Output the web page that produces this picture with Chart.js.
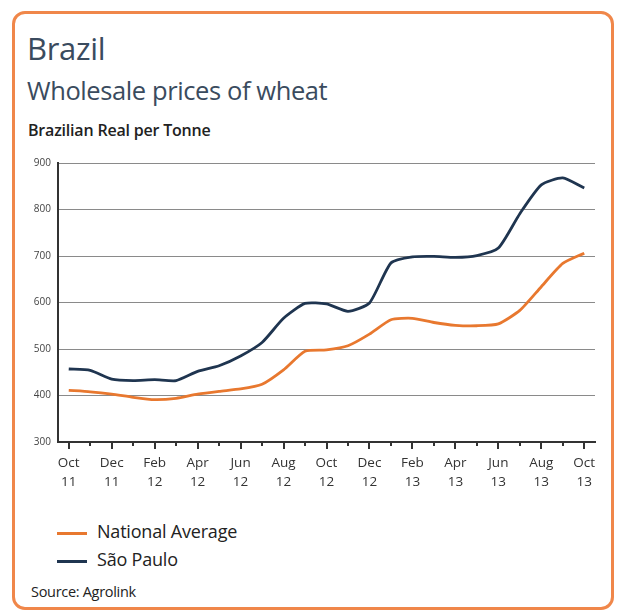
<!DOCTYPE html>
<html>
<head>
<meta charset="utf-8">
<script src="https://cdn.jsdelivr.net/npm/chart.js@4"></script>
<style>
  html, body { margin:0; padding:0; background:#fff; }
  body { width:619px; height:613px; position:relative; overflow:hidden; font-family:"Open Sans", sans-serif; }
  #frame { position:absolute; left:12px; top:11px; width:596px; height:593px; border:3px solid #f0874a; border-radius:13px; box-sizing:content-box; }
  .t { position:absolute; white-space:nowrap; color:#3a4b5e; }
  #title { left:27px; top:27px; font-size:31px; letter-spacing:-0.3px; }
  #subtitle { left:27px; top:73px; font-size:25.5px; letter-spacing:-0.4px; }
  #unit { left:28px; top:119px; font-size:16px; font-weight:600; color:#222; letter-spacing:-0.2px; }
  #chartwrap { position:absolute; left:0; top:150px; width:619px; height:360px; }
  .leg { position:absolute; left:57px; width:30px; height:3px; }
  .legt { position:absolute; left:97px; font-size:18px; color:#222; letter-spacing:-0.2px; }
  #source { left:31px; top:582px; font-size:14.5px; color:#222; letter-spacing:-0.3px; }
</style>
</head>
<body>
<div id="frame"></div>
<div class="t" id="title">Brazil</div>
<div class="t" id="subtitle">Wholesale prices of wheat</div>
<div class="t" id="unit">Brazilian Real per Tonne</div>
<div id="chartwrap"><canvas id="c" width="619" height="360"></canvas></div>
<div class="leg" style="top:532px;background:#e8782f"></div>
<div class="t legt" style="top:519px">National Average</div>
<div class="leg" style="top:560px;background:#1f3550"></div>
<div class="t legt" style="top:547px">São Paulo</div>
<div class="t" id="source">Source: Agrolink</div>
<script>
const months = ['Oct 11','Nov 11','Dec 11','Jan 12','Feb 12','Mar 12','Apr 12','May 12','Jun 12','Jul 12','Aug 12','Sep 12',
  'Oct 12','Nov 12','Dec 12','Jan 13','Feb 13','Mar 13','Apr 13','May 13','Jun 13','Jul 13','Aug 13','Sep 13','Oct 13'];
const nationalAverage = [411,408,403,396,391,394,403,409,414,424,455,495,498,507,532,563,566,557,551,550,554,583,634,684,706];
const saoPaulo = [457,454,435,432,434,432,452,464,485,514,566,598,597,581,599,685,698,699,697,701,717,791,853,868,846];
const yTicks = [300,400,500,600,700,800,900];

const tickMarks = {
  id:'tickMarks',
  afterDraw(chart){
    const x = chart.scales.x, ctx = chart.ctx, y0 = chart.chartArea.bottom;
    ctx.save();
    ctx.strokeStyle = '#333';
    ctx.lineWidth = 2;
    for (let i=0;i<months.length;i++){
      const px = Math.round(x.getPixelForValue(i));
      ctx.beginPath();
      ctx.moveTo(px, y0);
      ctx.lineTo(px, y0 + (i%2===0 ? 7 : 4));
      ctx.stroke();
    }
    ctx.restore();
  }
};

new Chart(document.getElementById('c'), {
  type:'line',
  data:{
    labels: months,
    datasets:[
      {label:'National Average', data:nationalAverage, borderColor:'#e8782f', borderWidth:2.8, pointRadius:0, tension:0.2, fill:false},
      {label:'São Paulo', data:saoPaulo, borderColor:'#1f3550', borderWidth:2.8, pointRadius:0, tension:0.2, fill:false}
    ]
  },
  options:{
    responsive:false,
    animation:false,
    layout:{padding:{left:0,right:24,top:13,bottom:0}},
    plugins:{legend:{display:false}, tooltip:{enabled:false}},
    scales:{
      x:{
        offset:true,
        grid:{display:false, drawTicks:false},
        border:{display:true, color:'#333', width:2},
        ticks:{
          autoSkip:false, maxRotation:0, padding:12,
          color:'#333', font:{family:'"Open Sans", sans-serif', size:13.5, lineHeight:1.4},
          callback:(v,i)=> i%2===0 ? months[i].split(' ') : ''
        },
        afterFit(s){ s.height = 68; }
      },
      y:{
        min:300, max:900,
        afterBuildTicks(s){ s.ticks = yTicks.map(v=>({value:v})); },
        grid:{color:'#8a8a8a', lineWidth:1, drawTicks:false},
        border:{display:true, color:'#333', width:2},
        ticks:{padding:7, color:'#444', font:{family:'"Open Sans", sans-serif', size:10}},
        afterFit(s){ s.width = 58; }
      }
    }
  },
  plugins:[tickMarks]
});
</script>
</body>
</html>
